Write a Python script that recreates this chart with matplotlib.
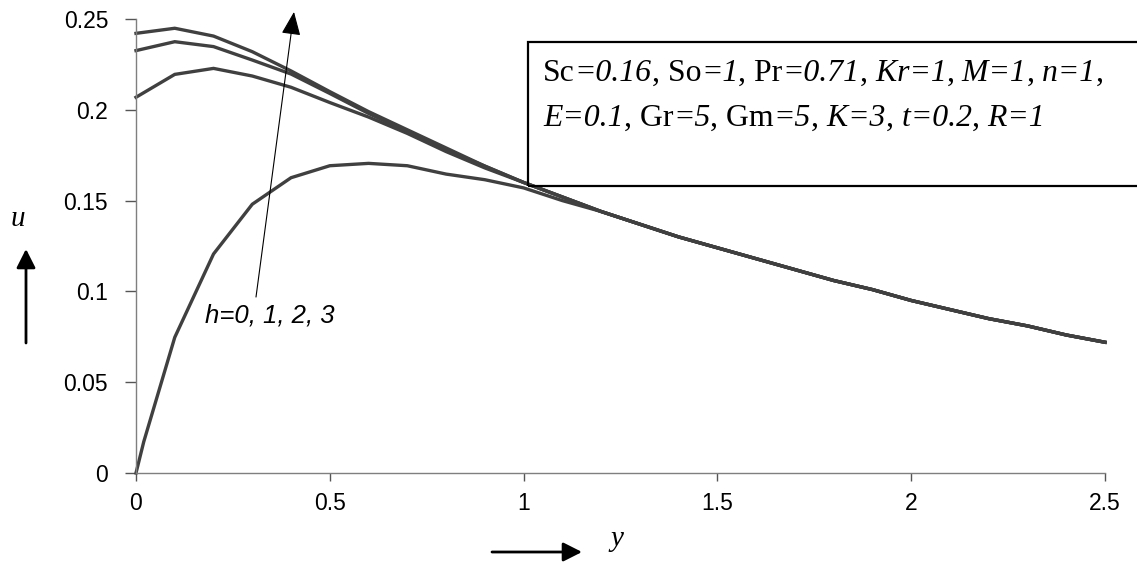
import matplotlib
matplotlib.use("Agg")
import matplotlib.pyplot as plt
from matplotlib.patches import Rectangle, FancyArrowPatch
from matplotlib.transforms import IdentityTransform

# velocity profiles u(y) for h = 0, 1, 2, 3
y_vals = [0.0, 0.1, 0.2, 0.3, 0.4, 0.5, 0.6, 0.7, 0.8, 0.9, 1.0, 1.1, 1.2,
          1.3, 1.4, 1.5, 1.6, 1.7, 1.8, 1.9, 2.0, 2.1, 2.2, 2.3, 2.4, 2.5]
y_h0 = [0.0, 0.02, 0.1, 0.2, 0.3, 0.4, 0.5, 0.6, 0.7, 0.8, 0.9, 1.0, 1.1, 1.2,
        1.3, 1.4, 1.5, 1.6, 1.7, 1.8, 1.9, 2.0, 2.1, 2.2, 2.3, 2.4, 2.5]

tail = [0.137, 0.130, 0.124, 0.118, 0.112, 0.106, 0.101, 0.095,
        0.090, 0.085, 0.081, 0.076, 0.072]

u_h3 = [0.2421, 0.2449, 0.2406, 0.2320, 0.2214, 0.210, 0.199, 0.189, 0.179,
        0.169, 0.160, 0.152, 0.144] + tail
u_h2 = [0.2326, 0.2375, 0.2348, 0.2274, 0.2197, 0.209, 0.198, 0.188, 0.178,
        0.169, 0.160, 0.152, 0.144] + tail
u_h1 = [0.2069, 0.2195, 0.2228, 0.2186, 0.2124, 0.204, 0.196, 0.187, 0.177,
        0.168, 0.160, 0.152, 0.144] + tail
u_h0 = [0.0, 0.0172, 0.0747, 0.1206, 0.148, 0.1626, 0.1692, 0.1705, 0.1692,
        0.1646, 0.1615, 0.157, 0.150, 0.144] + tail

xticks = [0, 0.5, 1, 1.5, 2, 2.5]
xtick_labels = ["0", "0.5", "1", "1.5", "2", "2.5"]
yticks = [0, 0.05, 0.1, 0.15, 0.2, 0.25]
ytick_labels = ["0", "0.05", "0.1", "0.15", "0.2", "0.25"]

line1 = [("Sc", "normal"), ("=0.16", "italic"), (", So", "normal"), ("=1", "italic"),
         (", Pr", "normal"), ("=0.71", "italic"), (",", "normal"), (" Kr=1", "italic"),
         (",", "normal"), (" M=1", "italic"), (",", "normal"), (" n=1", "italic"),
         (",", "normal")]
line2 = [("E=0.1", "italic"), (", Gr", "normal"), ("=5", "italic"), (", Gm", "normal"),
         ("=5", "italic"), (",", "normal"), (" K=3", "italic"), (",", "normal"),
         (" t=0.2", "italic"), (",", "normal"), (" R=1", "italic")]

W, H = 1137, 562
fig = plt.figure(figsize=(W / 100, H / 100), dpi=100)
ax = fig.add_axes([136 / W, 1 - 473 / H, (1105 - 136) / W, (473 - 19) / H])

col = "#404040"
for xs, us in [(y_h0, u_h0), (y_vals, u_h1), (y_vals, u_h2), (y_vals, u_h3)]:
    ax.plot(xs, us, color=col, lw=2.4, solid_joinstyle="miter", clip_on=False)

ax.set_xlim(0, 2.5)
ax.set_ylim(0, 0.25)
for s in ["top", "right"]:
    ax.spines[s].set_visible(False)
for s in ["left", "bottom"]:
    ax.spines[s].set_color("#7f7f7f")
    ax.spines[s].set_linewidth(1.0)
ax.set_xticks(xticks)
ax.set_xticklabels(xtick_labels, fontfamily="Liberation Sans", fontsize=16.5)
ax.set_yticks(yticks)
ax.set_yticklabels(ytick_labels, fontfamily="Liberation Sans", fontsize=16.5)
ax.tick_params(axis="x", direction="out", length=6, width=1.0, color="#555555", pad=8)
ax.tick_params(axis="y", direction="out", length=8, width=1.0, color="#555555", pad=12)

# h annotation
ax.annotate("", xy=(0.4076, 0.2539), xytext=(0.3096, 0.0969),
            arrowprops=dict(arrowstyle="-|>,head_length=1.45,head_width=0.6",
                            color="black", lw=0.8, shrinkA=0, shrinkB=0),
            annotation_clip=False)
fig.text(205 / W, 1 - 322 / H, "h=0, 1, 2, 3", fontfamily="Liberation Sans",
         style="italic", fontsize=18.5, ha="left", va="baseline")

# axis names with arrows
fig.text(18 / W, 1 - 219 / H, "u", fontfamily="Liberation Serif", style="italic",
         fontsize=21, ha="center", va="center")
fig.text(617 / W, 1 - 539 / H, "y", fontfamily="Liberation Serif", style="italic",
         fontsize=21, ha="center", va="center")
for (x0, y0), (x1, y1) in [((26, 343), (26, 249)), ((492, 552), (582, 552))]:
    fig.patches.append(FancyArrowPatch((x0 / W, 1 - y0 / H), (x1 / W, 1 - y1 / H),
                                       transform=fig.transFigure,
                                       arrowstyle="-|>,head_length=0.95,head_width=0.48",
                                       mutation_scale=12, lw=2.0, color="black",
                                       shrinkA=0, shrinkB=0))

# parameter box
fig.patches.append(Rectangle((528 / W, 1 - 186 / H), (W + 10 - 528) / W, (186 - 42) / H,
                             transform=fig.transFigure, fill=False, lw=1.6,
                             edgecolor="black", clip_on=False))
renderer = fig.canvas.get_renderer()


def rich_line(parts, x, y, size):
    for txt, st in parts:
        t = fig.text(x, y, txt, transform=IdentityTransform(), fontfamily="Liberation Serif",
                     style=st, fontsize=size, ha="left", va="baseline")
        x += t.get_window_extent(renderer).width


rich_line(line1, 543, H - 81, 22.9)
rich_line(line2, 543, H - 125.5, 22.9)

fig.savefig("out.png", dpi=100)
